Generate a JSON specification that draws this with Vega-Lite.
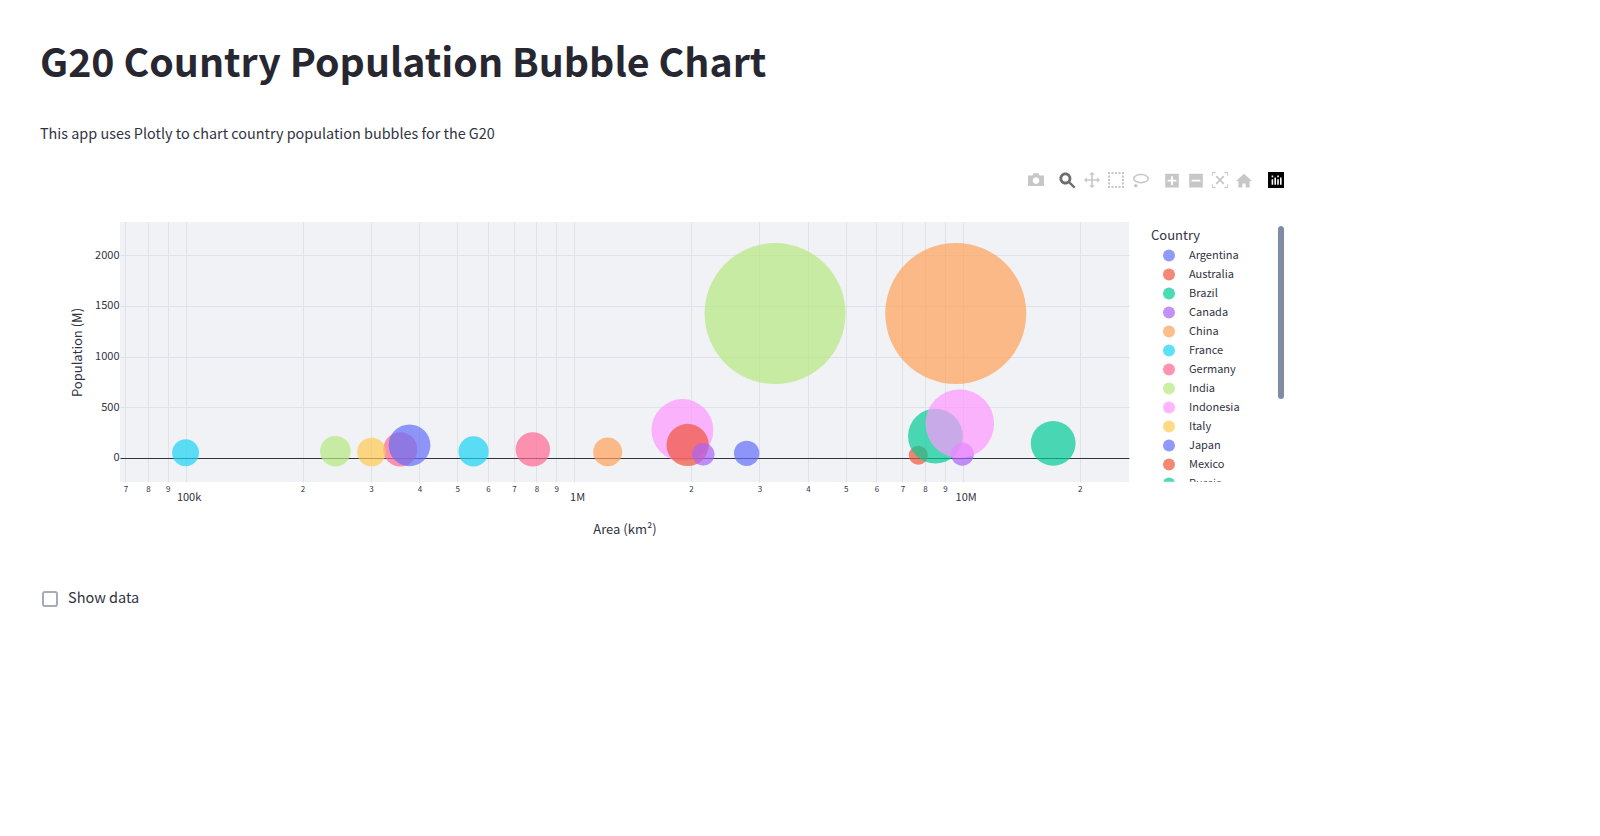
{
"$schema":"https://vega.github.io/schema/vega-lite/v6.json",
"width":1009,"height":260,
"autosize":{"type":"none"},
"padding":{"left":120,"top":222,"right":471,"bottom":354},
"background":"#ffffff",
"view":{"fill":"#F0F2F6","stroke":null},
"title":{"text":"G20 Country Population Bubble Chart","subtitle":"This app uses Plotly to chart country population bubbles for the G20","anchor":"start","frame":"group","dx":-80,"offset":31,"font":"Noto Sans CJK JP","fontSize":39.3,"fontWeight":700,"color":"#262730","subtitleFont":"Noto Sans CJK JP","subtitleFontSize":14.4,"subtitleFontWeight":400,"subtitleColor":"#31333F","subtitlePadding":42},
"config":{"font":"Noto Sans CJK JP","axis":{"labelColor":"#31333F","titleColor":"#31333F","titleFontWeight":400,"labelFont":"Noto Sans CJK JP","titleFont":"Noto Sans CJK JP"},"legend":{"labelFont":"Noto Sans CJK JP","titleFont":"Noto Sans CJK JP"}},
"layer":[
{"data":{"values":[
{"Country":"Argentina","Area":2780000,"Population":46},
{"Country":"Australia","Area":7690000,"Population":26},
{"Country":"Brazil","Area":8510000,"Population":215},
{"Country":"Canada","Area":9980000,"Population":38},
{"Country":"China","Area":9600000,"Population":1425},
{"Country":"France","Area":551000,"Population":65},
{"Country":"Germany","Area":357000,"Population":84},
{"Country":"India","Area":3290000,"Population":1424},
{"Country":"Indonesia","Area":1900000,"Population":275},
{"Country":"Italy","Area":301000,"Population":59},
{"Country":"Japan","Area":377000,"Population":125},
{"Country":"Mexico","Area":1960000,"Population":128},
{"Country":"Russia","Area":17100000,"Population":144},
{"Country":"Saudi Arabia","Area":2150000,"Population":36},
{"Country":"South Africa","Area":1220000,"Population":60},
{"Country":"South Korea","Area":100000,"Population":52},
{"Country":"Turkey","Area":783000,"Population":85},
{"Country":"United Kingdom","Area":243000,"Population":67},
{"Country":"United States","Area":9830000,"Population":338}
]},
"mark":{"type":"circle","opacity":0.7,"strokeWidth":0},
"encoding":{
"x":{"field":"Area","type":"quantitative","scale":{"type":"log","domain":[67800,26800000],"nice":false},
"axis":{"title":"Area (km²)","titleFontSize":13,"titlePadding":30,"values":[70000,80000,90000,100000,200000,300000,400000,500000,600000,700000,800000,900000,1000000,2000000,3000000,4000000,5000000,6000000,7000000,8000000,9000000,10000000,20000000],"labelExpr":"(datum.value==100000||datum.value==1000000||datum.value==10000000)?'':slice(format(datum.value,'d'),0,1)","labelFontSize":8,"labelPadding":3,"ticks":false,"tickSize":0,"domain":false,"grid":true,"gridColor":"#DFE2E8","gridWidth":1,"labelOverlap":false,"labelFlush":false}},
"y":{"field":"Population","type":"quantitative","scale":{"domain":[-237,2327],"nice":false,"zero":false},
"axis":{"title":"Population (M)","titleFontSize":13,"titlePadding":10,"values":[0,500,1000,1500,2000],"format":"d","labelFontSize":11,"labelPadding":1,"ticks":false,"tickSize":0,"domain":false,"grid":true,"gridColor":{"condition":{"test":"datum.value===0","value":"#31333F"},"value":"#DFE2E8"}}},
"size":{"field":"Population","type":"quantitative","scale":{"domain":[0,1425],"range":[0,19881],"zero":true},"legend":null},
"fill":{"field":"Country","type":"nominal","sort":null,"scale":{"domain":["Argentina","Australia","Brazil","Canada","China","France","Germany","India","Indonesia","Italy","Japan","Mexico","Russia","Saudi Arabia","South Africa","South Korea","Turkey","United Kingdom","United States"],"range":["#636EFA","#EF553B","#00CC96","#AB63FA","#FFA15A","#19D3F3","#FF6692","#B6E880","#FF97FF","#FECB52","#636EFA","#EF553B","#00CC96","#AB63FA","#FFA15A","#19D3F3","#FF6692","#B6E880","#FF97FF"]},
"legend":{"orient":"none","legendX":1031,"legendY":8,"title":"Country","titleFontSize":13,"titleFontWeight":400,"titleColor":"#31333F","labelColor":"#31333F","labelFontSize":11,"labelOffset":14,"symbolSize":144,"symbolOffset":12,"symbolOpacity":0.7,"symbolStrokeWidth":0,"symbolType":"circle","rowPadding":0,"clipHeight":19,"titlePadding":3,"padding":0,"values":["Argentina","Australia","Brazil","Canada","China","France","Germany","India","Indonesia","Italy","Japan","Mexico","Russia"]}}
}},
{"data":{"values":[{"Major":100000},{"Major":1000000},{"Major":10000000}]},
"mark":{"type":"circle","opacity":0},
"encoding":{"x":{"field":"Major","type":"quantitative","axis":{"orient":"bottom","title":null,"values":[100000,1000000,10000000],"labelExpr":"datum.value==100000?'100k':datum.value==1000000?'1M':'10M'","labelFontSize":11,"labelPadding":9,"labelOffset":3,"ticks":false,"tickSize":0,"domain":false,"grid":false}}}},
{"data":{"values":[{"Camera":"camera"}]},
"mark":{"type":"point","filled":true,"opacity":0,"fill":"#C7C7C7"},
"encoding":{"shape":{"field":"Camera","type":"nominal","scale":{"domain":["camera"],"range":["M-1,-0.55 h0.55 l0.15,-0.3 h0.6 l0.15,0.3 h0.55 v1.3 h-2 z M0,-0.35 a0.42,0.42 0 1 0 0.001,0 z"]},
"legend":{"orient":"none","legendX":908,"legendY":-50,"title":null,"symbolSize":256,"symbolOpacity":1,"symbolFillColor":"#C7C7C7","symbolStrokeWidth":0,"labelExpr":"''","labelOffset":0,"labelFontSize":1,"padding":0}}}},
{"data":{"values":[{"Zoom":"zoom"}]},
"mark":{"type":"point","filled":true,"opacity":0,"fill":"#6E6E6E"},
"encoding":{"shape":{"field":"Zoom","type":"nominal","scale":{"domain":["zoom"],"range":["M-0.2,-0.95 a0.75,0.75 0 1 1 -0.001,0 z M-0.2,-0.6 a0.4,0.4 0 1 0 0.001,0 z M0.2,0.4 l0.2,-0.2 l0.65,0.65 l-0.2,0.2 z"]},
"legend":{"orient":"none","legendX":939,"legendY":-50,"title":null,"symbolSize":256,"symbolOpacity":1,"symbolFillColor":"#6E6E6E","symbolStrokeWidth":0,"labelExpr":"''","labelOffset":0,"labelFontSize":1,"padding":0}}}},
{"data":{"values":[{"Select":"pan"},{"Select":"box"},{"Select":"lasso"}]},
"mark":{"type":"point","filled":true,"opacity":0,"fill":"#C7C7C7"},
"encoding":{"shape":{"field":"Select","type":"nominal","sort":null,"scale":{"domain":["pan","box","lasso"],"range":[
"M-1,0 L-1,0 M1,0 L1,0 M0,-1 l0.35,0.35 h-0.25 v0.55 h0.55 v-0.25 l0.35,0.35 l-0.35,0.35 v-0.25 h-0.55 v0.55 h0.25 l-0.35,0.35 l-0.35,-0.35 h0.25 v-0.55 h-0.55 v0.25 l-0.35,-0.35 l0.35,-0.35 v0.25 h0.55 v-0.55 h-0.25 z",
"M-1,0 L-1,0 M1,0 L1,0 M-1,-1 h0.25 v0.25 h-0.25 z m0.4375,0 h0.25 v0.25 h-0.25 z m0.4375,0 h0.25 v0.25 h-0.25 z m0.4375,0 h0.25 v0.25 h-0.25 z m0.4375,0 h0.25 v0.25 h-0.25 z m0,0.4375 h0.25 v0.25 h-0.25 z m0,0.4375 h0.25 v0.25 h-0.25 z m0,0.4375 h0.25 v0.25 h-0.25 z m0,0.4375 h0.25 v0.25 h-0.25 z m-0.4375,0 h0.25 v0.25 h-0.25 z m-0.4375,0 h0.25 v0.25 h-0.25 z m-0.4375,0 h0.25 v0.25 h-0.25 z m-0.4375,0 h0.25 v0.25 h-0.25 z m0,-0.4375 h0.25 v0.25 h-0.25 z m0,-0.4375 h0.25 v0.25 h-0.25 z m0,-0.4375 h0.25 v0.25 h-0.25 z",
"M-1,0 L-1,0 M1,0 L1,0 M0,-0.85 a1,0.62 0 1 1 -0.001,0 z M0,-0.65 a0.8,0.42 0 1 0 0.001,0 z M-0.65,0.45 a0.22,0.22 0 1 1 -0.001,0 z"
]},
"legend":{"orient":"none","legendX":964,"legendY":-50,"title":null,"columns":3,"direction":"horizontal","symbolSize":256,"symbolOpacity":1,"symbolFillColor":"#C7C7C7","symbolStrokeWidth":0,"labelExpr":"''","labelOffset":0,"labelFontSize":1,"columnPadding":8,"padding":0}}}},
{"data":{"values":[{"View":"plus"},{"View":"minus"},{"View":"autoscale"},{"View":"home"}]},
"mark":{"type":"point","filled":true,"opacity":0,"fill":"#C7C7C7"},
"encoding":{"shape":{"field":"View","type":"nominal","sort":null,"scale":{"domain":["plus","minus","autoscale","home"],"range":[
"M-1,0 L-1,0 M1,0 L1,0 M-0.85,-0.85 h1.7 v1.7 h-1.7 z M-0.12,-0.55 v0.43 h-0.43 v0.24 h0.43 v0.43 h0.24 v-0.43 h0.43 v-0.24 h-0.43 v-0.43 z",
"M-1,0 L-1,0 M1,0 L1,0 M-0.85,-0.85 h1.7 v1.7 h-1.7 z M-0.55,-0.12 v0.24 h1.1 v-0.24 z",
"M-1,-1 h0.45 v0.12 h-0.33 v0.33 h-0.12 z M1,-1 v0.45 h-0.12 v-0.33 h-0.33 v-0.12 z M1,1 h-0.45 v-0.12 h0.33 v-0.33 h0.12 z M-1,1 v-0.45 h0.12 v0.33 h0.33 v0.12 z M-0.55,-0.4 l0.15,-0.15 l0.4,0.4 l0.4,-0.4 l0.15,0.15 l-0.4,0.4 l0.4,0.4 l-0.15,0.15 l-0.4,-0.4 l-0.4,0.4 l-0.15,-0.15 l0.4,-0.4 z",
"M0,-0.85 l1,0.9 h-0.3 v0.8 h-0.5 v-0.5 h-0.4 v0.5 h-0.5 v-0.8 h-0.3 z"
]},
"legend":{"orient":"none","legendX":1044,"legendY":-50,"title":null,"columns":4,"direction":"horizontal","symbolSize":256,"symbolOpacity":1,"symbolFillColor":"#C7C7C7","symbolStrokeWidth":0,"labelExpr":"''","labelOffset":0,"labelFontSize":1,"columnPadding":8,"padding":0}}}},
{"data":{"values":[{"Logo":"logo"}]},
"mark":{"type":"point","filled":true,"opacity":0,"fill":"#000000"},
"encoding":{"shape":{"field":"Logo","type":"nominal","scale":{"domain":["logo"],"range":["M-1,-1 h2 v2 h-2 z M-0.55,-0.1 v0.7 h0.2 v-0.7 z M-0.2,-0.3 v0.9 h0.2 v-0.9 z M0.15,-0.1 v0.7 h0.2 v-0.7 z M0.5,-0.3 v0.9 h0.2 v-0.9 z M-0.55,-0.55 v0.2 h0.2 v-0.2 z M0.15,-0.55 v0.2 h0.2 v-0.2 z"]},
"legend":{"orient":"none","legendX":1148,"legendY":-50,"title":null,"symbolSize":256,"symbolOpacity":1,"symbolFillColor":"#000000","symbolStrokeWidth":0,"labelExpr":"''","labelOffset":0,"labelFontSize":1,"padding":0}}}},
{"data":{"values":[{"Control":"Show data"}]},
"mark":{"type":"point","filled":false,"opacity":0,"stroke":"#A8ABB6"},
"encoding":{"shape":{"field":"Control","type":"nominal","scale":{"domain":["Show data"],"range":["M-0.7,-1 h1.4 a0.3,0.3 0 0 1 0.3,0.3 v1.4 a0.3,0.3 0 0 1 -0.3,0.3 h-1.4 a0.3,0.3 0 0 1 -0.3,-0.3 v-1.4 a0.3,0.3 0 0 1 0.3,-0.3 z"]},
"legend":{"orient":"none","legendX":-78,"legendY":369,"title":null,"symbolSize":196,"symbolOpacity":1,"symbolStrokeColor":"#A8ABB6","symbolStrokeWidth":2,"labelFontSize":14.5,"labelColor":"#31333F","labelOffset":10,"padding":0}}}},
{"data":{"values":[{"Scrollbar":"scroll"}]},
"mark":{"type":"point","filled":true,"opacity":0,"fill":"#808BA4"},
"encoding":{"shape":{"field":"Scrollbar","type":"nominal","scale":{"domain":["scroll"],"range":["M-0.035,-0.965 A0.035,0.035 0 0 1 0.035,-0.965 V0.965 A0.035,0.035 0 0 1 -0.035,0.965 Z"]},
"legend":{"orient":"none","legendX":1074.5,"legendY":4,"title":null,"symbolSize":29929,"symbolOpacity":1,"symbolFillColor":"#808BA4","symbolStrokeWidth":0,"labelExpr":"''","labelFontSize":1,"labelOffset":0,"padding":0}}}},
{"data":{"values":[{"Cover":"cover"}]},
"mark":{"type":"point","filled":true,"opacity":0,"fill":"#ffffff"},
"encoding":{"shape":{"field":"Cover","type":"nominal","scale":{"domain":["cover"],"range":["M-1,-0.13 H1 V0.13 H-1 Z"]},
"legend":{"orient":"none","legendX":1031,"legendY":212,"title":null,"symbolSize":12100,"symbolOpacity":1,"symbolFillColor":"#ffffff","symbolStrokeWidth":0,"labelExpr":"''","labelFontSize":1,"labelOffset":0,"padding":0,"zindex":2}}}}
],
"resolve":{"scale":{"fill":"independent","shape":"independent"},"axis":{"x":"independent"},"legend":{"fill":"independent","shape":"independent"}}
}
